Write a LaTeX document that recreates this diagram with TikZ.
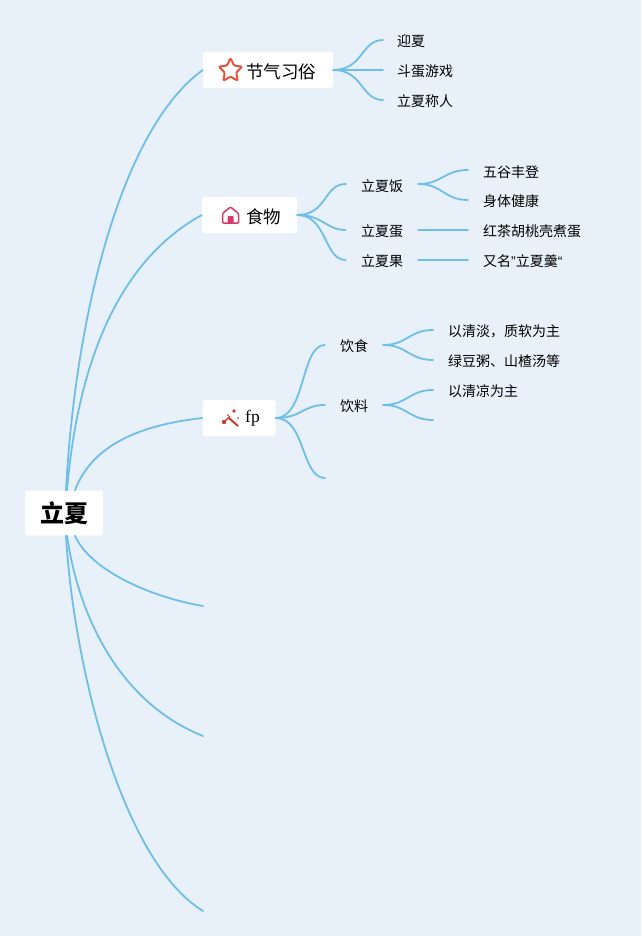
\documentclass[tikz,border=0pt]{standalone}
\usepackage{fontspec}
\setmainfont{Noto Sans CJK SC}
\newfontfamily\latinserif{Liberation Serif}
\newfontfamily\latinsans{Liberation Sans}
\usetikzlibrary{calc}
\definecolor{bgc}{HTML}{E8F1F9}
\definecolor{linec}{HTML}{6FBEE8}
\definecolor{starc}{HTML}{E8503A}
\definecolor{housec}{HTML}{D9386A}
\definecolor{wandc}{HTML}{CC3B2E}
\tikzset{
  conn/.style={draw=linec,line width=1.8pt,line cap=round},
  boxbase/.style={fill=white,rounded corners=2.5pt,inner sep=0pt,anchor=center,text=black},
  rootbox/.style={boxbase,minimum width=78pt,minimum height=45pt,font=\fontsize{24}{24}\selectfont\bfseries},
  branchbox/.style={boxbase,minimum height=36pt,font=\fontsize{18}{18}\selectfont},
  midtext/.style={inner sep=0pt,anchor=center,minimum height=14pt,font=\fontsize{14}{14}\selectfont,text=black},
  leaftext/.style={inner sep=0pt,anchor=west,minimum height=14pt,font=\fontsize{14}{14}\selectfont,text=black},
}
\begin{document}
\begin{tikzpicture}[x=1pt,y=-1pt]
\useasboundingbox (0,0) rectangle (641,936);
\fill[bgc] (0,0) rectangle (641,936);

% free ends
\coordinate (r4) at (203,606);
\coordinate (r5) at (203,736);
\coordinate (r6) at (203,911);
\coordinate (f3) at (325,478);
\coordinate (d4) at (433,420);

% nodes
\node[rootbox] (root) at (64,513) {\hspace{1pt}\raisebox{-1pt}{立夏}};
\node[branchbox,minimum width=130pt] (b1) at (268,70) {};
\node[anchor=west,inner sep=0pt,font=\fontsize{17.5}{18}\selectfont] (b1t) at (246,71.5) {节气习俗};
\node[branchbox,minimum width=95pt] (b2) at (249.5,215) {};
\node[anchor=west,inner sep=0pt,font=\fontsize{17.5}{18}\selectfont] (b2t) at (246,216.5) {食物};
\node[branchbox,minimum width=73pt] (b3) at (239,418) {};
\node[anchor=west,inner sep=0pt,font=\fontsize{17.5}{18}\selectfont\latinserif] (b3t) at (245,418) {fp};

\node[leaftext] (a1) at (397,41) {迎夏};
\node[leaftext] (a2) at (397,71) {斗蛋游戏};
\node[leaftext] (a3) at (397,101) {立夏称人};

\node[midtext,minimum width=72pt] (m1) at (382,186) {立夏饭};
\node[midtext,minimum width=72pt] (m2) at (382,231) {立夏蛋};
\node[midtext,minimum width=72pt] (m3) at (382,261) {立夏果};
\node[leaftext] (c1) at (483,172) {五谷丰登};
\node[leaftext] (c2) at (483,201) {身体健康};
\node[leaftext] (c3) at (483,231) {红茶胡桃壳煮蛋};
\node[leaftext] (c4) at (483,261) {又名{\latinsans ”}立夏羹{\latinsans “}};

\node[midtext,minimum width=58pt] (f1) at (354,346) {饮食};
\node[midtext,minimum width=58pt] (f2) at (354,406) {饮料};
\node[leaftext] (d1) at (448,331) {以清淡，质软为主};
\node[leaftext] (d2) at (448,361) {绿豆粥、山楂汤等};
\node[leaftext] (d3) at (448,391) {以清凉为主};

% root connectors
\draw[conn] ([xshift=2pt]root.north) .. controls (75,320) and (120,130) .. (b1.west);
\draw[conn] ([xshift=3pt]root.north) .. controls (78,360) and (120,260) .. (b2.west);
\draw[conn] ([xshift=11pt]root.north) .. controls (92,445) and (140,425) .. (b3.west);
\draw[conn] ([xshift=11pt]root.south) .. controls (90,570) and (150,597) .. (r4);
\draw[conn] ([xshift=3pt]root.south) .. controls (80,625) and (125,705) .. (r5);
\draw[conn] ([xshift=2pt]root.south) .. controls (73,660) and (120,860) .. (r6);

% branch 1
\draw[conn] (b1.east) .. controls +(30,0) and +(-22,0) .. ($(a1.west)+(-14,-1)$);
\draw[conn] (b1.east) -- ($(a2.west)+(-14,-1)$);
\draw[conn] (b1.east) .. controls +(30,0) and +(-22,0) .. ($(a3.west)+(-14,-1)$);

% branch 2
\draw[conn] (b2.east) .. controls +(30,0) and +(-22,0) .. ($(m1.west)+(0,-2)$);
\draw[conn] (b2.east) .. controls +(26,0) and +(-20,0) .. ($(m2.west)+(0,-1)$);
\draw[conn] (b2.east) .. controls +(30,0) and +(-22,0) .. ($(m3.west)+(0,-1)$);
\draw[conn] ($(m1.east)+(0,-2)$) .. controls +(24,0) and +(-24,0) .. ($(c1.west)+(-15,-2)$);
\draw[conn] ($(m1.east)+(0,-2)$) .. controls +(24,0) and +(-24,0) .. ($(c2.west)+(-15,-1)$);
\draw[conn] ($(m2.east)+(0,-1)$) -- ($(c3.west)+(-15,-1)$);
\draw[conn] ($(m3.east)+(0,-1)$) -- ($(c4.west)+(-15,-1)$);

% branch 3
\draw[conn] (b3.east) .. controls +(30,0) and +(-24,0) .. ($(f1.west)+(0,-1)$);
\draw[conn] (b3.east) .. controls +(26,0) and +(-22,0) .. ($(f2.west)+(0,-1)$);
\draw[conn] (b3.east) .. controls +(30,0) and +(-24,0) .. (f3);
\draw[conn] ($(f1.east)+(0,-1)$) .. controls +(24,0) and +(-24,0) .. ($(d1.west)+(-15,-1)$);
\draw[conn] ($(f1.east)+(0,-1)$) .. controls +(24,0) and +(-24,0) .. ($(d2.west)+(-15,-1)$);
\draw[conn] ($(f2.east)+(0,-1)$) .. controls +(24,0) and +(-24,0) .. ($(d3.west)+(-15,-1)$);
\draw[conn] ($(f2.east)+(0,-1)$) .. controls +(24,0) and +(-24,0) .. (d4);

% star icon
\draw[starc,line width=1.9pt,line join=round,rounded corners=1.2pt]
  (230.5,58) -- (234,65.6) -- (242.3,66.6) -- (236.2,72.4) -- (237.8,80.8) -- (230.5,76.6)
  -- (223.2,80.8) -- (224.8,72.4) -- (218.7,66.6) -- (227,65.6) -- cycle;

% house icon
\draw[housec,line width=1.5pt,line join=round,rounded corners=1pt]
  (222.5,223) -- (222.5,213.5) -- (230.5,207) -- (238.5,213.5) -- (238.5,223) -- cycle;
\fill[housec,rounded corners=1pt] (227.5,223.5) -- (227.5,216) -- (233.5,216) -- (233.5,223.5) -- cycle;

% wand icon
\draw[wandc,line width=2pt] (229,418) -- (238,426);
\fill[wandc] (224,422) circle (2.2pt);
\draw[wandc,line width=1.4pt] (225,421) -- (230,416.5);
\fill[wandc] (234,411) circle (1.8pt);
\fill[wandc] (228,415) circle (1pt);
\fill[wandc] (238,418) circle (1pt);
\end{tikzpicture}
\end{document}
